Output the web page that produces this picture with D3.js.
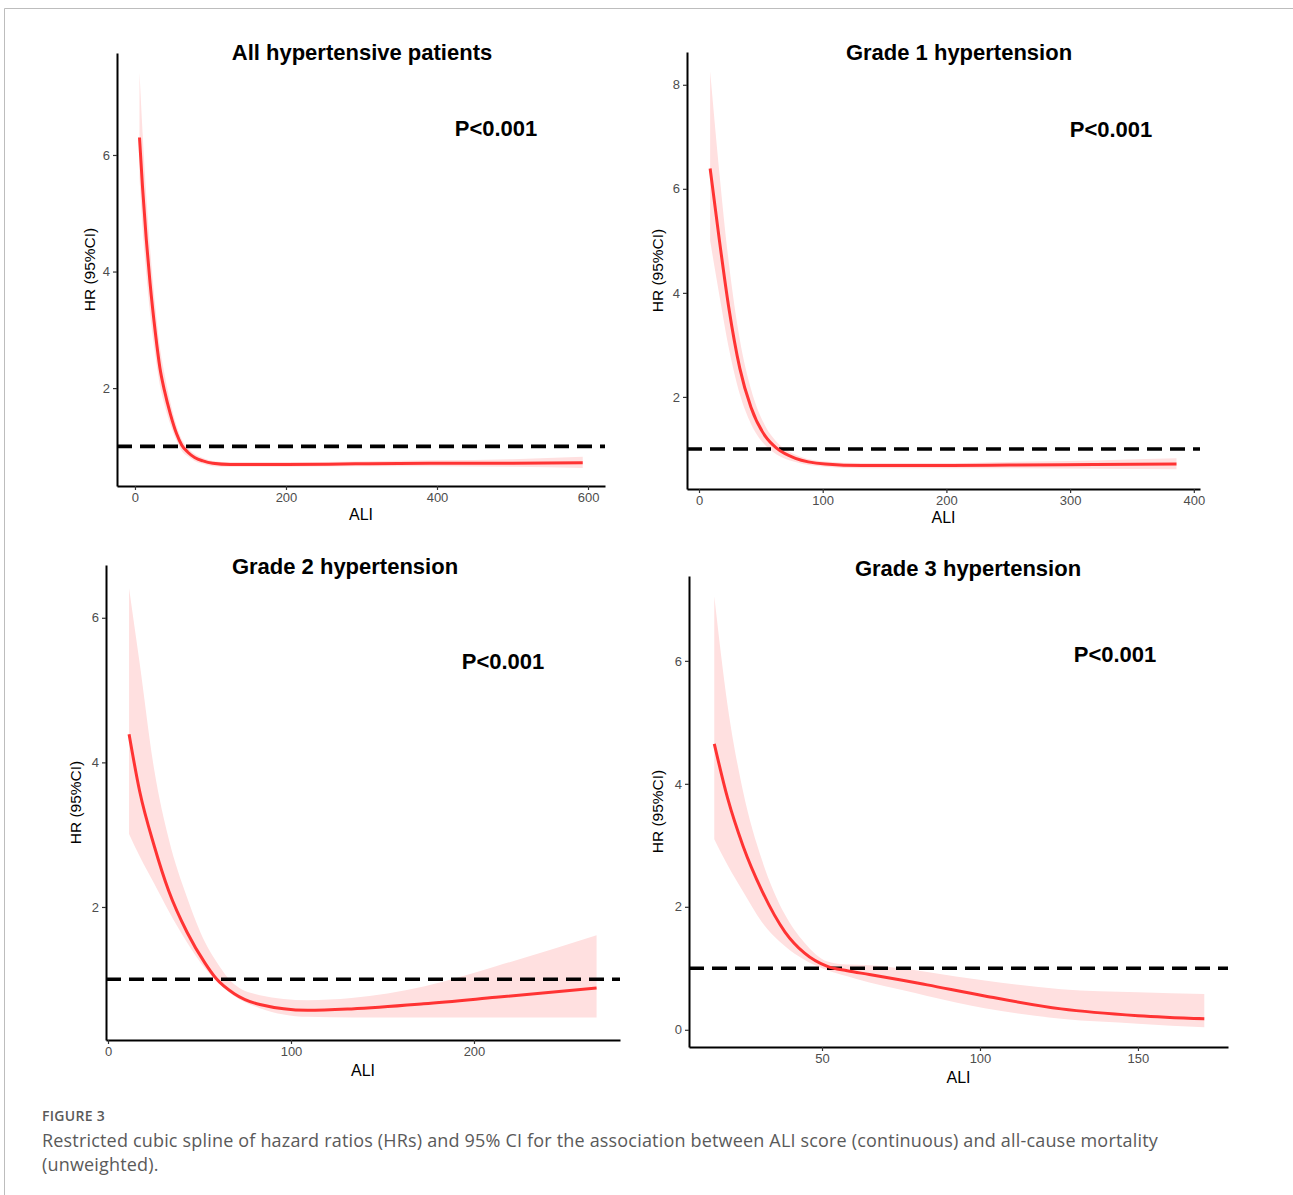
<!DOCTYPE html>
<html>
<head>
<meta charset="utf-8">
<script src="https://cdn.jsdelivr.net/npm/d3@7"></script>
<style>
  body { margin: 0; background: #fff; }
  svg { display: block; }
</style>
</head>
<body>
<svg id="fig" width="1293" height="1195"></svg>
<script>
// ---- data ----
const titles = ["All hypertensive patients", "Grade 1 hypertension", "Grade 2 hypertension", "Grade 3 hypertension"];
const pLabel = "P<0.001";

// All hypertensive patients
const allX     = [6, 10, 15, 20, 27, 33, 39, 47, 55, 62, 70, 79, 90, 103, 126, 200, 292, 400, 500, 593];
const allHR    = [6.30, 5.45, 4.55, 3.80, 2.95, 2.35, 1.96, 1.55, 1.22, 1.02, 0.90, 0.81, 0.75, 0.71, 0.69, 0.69, 0.70, 0.71, 0.71, 0.72];
const allUpper = [7.42, 6.40, 5.30, 4.40, 3.40, 2.70, 2.25, 1.75, 1.36, 1.12, 0.97, 0.87, 0.80, 0.75, 0.73, 0.73, 0.74, 0.76, 0.78, 0.82];
const allLower = [5.60, 4.75, 3.95, 3.28, 2.55, 2.05, 1.72, 1.37, 1.10, 0.92, 0.83, 0.75, 0.70, 0.66, 0.65, 0.65, 0.66, 0.66, 0.65, 0.63];

// Grade 1
const g1X     = [9, 16.5, 24, 33, 42, 54, 63, 78, 102, 132, 200, 251, 320, 386];
const g1HR    = [6.39, 5.01, 3.73, 2.55, 1.80, 1.23, 1.01, 0.82, 0.71, 0.68, 0.68, 0.69, 0.70, 0.71];
const g1Upper = [8.26, 6.30, 4.60, 3.10, 2.15, 1.42, 1.13, 0.89, 0.76, 0.73, 0.73, 0.75, 0.78, 0.82];
const g1Lower = [5.00, 3.95, 2.95, 2.05, 1.48, 1.06, 0.89, 0.75, 0.66, 0.63, 0.63, 0.63, 0.62, 0.61];

// Grade 2
const g2X     = [11.5, 17.3, 25.3, 33.2, 43.2, 53.1, 59.1, 69, 83, 109, 133, 172.5, 212, 267];
const g2HR    = [4.39, 3.60, 2.84, 2.22, 1.65, 1.22, 1.01, 0.80, 0.65, 0.57, 0.59, 0.66, 0.75, 0.88];
const g2Upper = [6.41, 5.37, 3.89, 2.94, 2.13, 1.51, 1.25, 0.93, 0.78, 0.71, 0.74, 0.90, 1.18, 1.61];
const g2Lower = [3.01, 2.70, 2.32, 1.94, 1.51, 1.15, 0.98, 0.77, 0.60, 0.48, 0.47, 0.47, 0.47, 0.47];

// Grade 3
const g3X     = [15.9, 20.1, 25, 31, 38.3, 44.4, 51.7, 58, 65, 75, 83.3, 101.5, 125.7, 150, 171];
const g3HR    = [4.65, 3.77, 2.99, 2.26, 1.59, 1.25, 1.03, 0.96, 0.90, 0.81, 0.73, 0.55, 0.34, 0.23, 0.18];
const g3Upper = [7.05, 5.28, 3.88, 2.76, 1.87, 1.42, 1.11, 1.06, 1.05, 1.00, 0.94, 0.80, 0.66, 0.61, 0.58];
const g3Lower = [3.10, 2.68, 2.25, 1.75, 1.36, 1.14, 0.97, 0.87, 0.77, 0.65, 0.55, 0.35, 0.18, 0.10, 0.04];

// axis limits and ticks
const xDomains = [[-23.8, 622.5], [-9.7, 405], [-1.1, 279.8], [7.9, 178.5]];
const yDomains = [[0.32, 7.75], [0.23, 8.63], [0.16, 6.73], [-0.28, 7.38]];
const xTicks = [[0, 200, 400, 600], [0, 100, 200, 300, 400], [0, 100, 200], [50, 100, 150]];
const yTicks = [[2, 4, 6], [2, 4, 6, 8], [2, 4, 6], [0, 2, 4, 6]];
const refHR = 1;

const series = [
  [allX, allHR, allLower, allUpper],
  [g1X, g1HR, g1Lower, g1Upper],
  [g2X, g2HR, g2Lower, g2Upper],
  [g3X, g3HR, g3Lower, g3Upper]
];

// ---- layout (pixel boxes of each panel's axes) ----
const boxes = [
  {l: 117, r: 605, t: 53, b: 486, titleX: 362, titleY: 60, pX: 496, pY: 136, ylabX: 90, xlabY: 520},
  {l: 687, r: 1200, t: 52, b: 489, titleX: 959, titleY: 60, pX: 1111, pY: 137, ylabX: 658, xlabY: 523},
  {l: 106, r: 620, t: 565, b: 1040, titleX: 345, titleY: 574, pX: 503, pY: 669, ylabX: 76, xlabY: 1076},
  {l: 689, r: 1228, t: 576, b: 1047, titleX: 968, titleY: 576, pX: 1115, pY: 662, ylabX: 658, xlabY: 1083}
];

const font = "'Liberation Sans', Arial, sans-serif";
const svg = d3.select("#fig");
svg.append("rect").attr("width", 1293).attr("height", 1195).attr("fill", "#fff");

// page frame
svg.append("path")
  .attr("d", "M4.5,1195 V8.5 H1293")
  .attr("fill", "none")
  .attr("stroke", "#bdbdbd")
  .attr("stroke-width", 1);

boxes.forEach((bx, i) => {
  const x = d3.scaleLinear().domain(xDomains[i]).range([bx.l, bx.r]);
  const y = d3.scaleLinear().domain(yDomains[i]).range([bx.b, bx.t]);
  const [xs, hr, lo, hi] = series[i];
  const pts = xs.map((v, k) => ({x: v, hr: hr[k], lo: lo[k], hi: hi[k]}));
  const g = svg.append("g");

  // confidence band
  g.append("path")
    .datum(pts)
    .attr("fill", "#ffe0e0")
    .attr("d", d3.area().curve(d3.curveMonotoneX)
      .x(d => x(d.x)).y0(d => y(d.lo)).y1(d => y(d.hi)));

  // reference line HR = 1
  g.append("line")
    .attr("x1", bx.l).attr("x2", bx.r)
    .attr("y1", y(refHR)).attr("y2", y(refHR))
    .attr("stroke", "#000")
    .attr("stroke-width", 3.6)
    .attr("stroke-dasharray", "15,8");

  // spline
  g.append("path")
    .datum(pts)
    .attr("fill", "none")
    .attr("stroke", "#ff3333")
    .attr("stroke-width", 3)
    .attr("d", d3.line().curve(d3.curveMonotoneX).x(d => x(d.x)).y(d => y(d.hr)));

  // axes
  const xa = g.append("g")
    .attr("transform", `translate(0,${bx.b})`)
    .call(d3.axisBottom(x).tickValues(xTicks[i]).tickFormat(d3.format("d"))
      .tickSize(4).tickSizeOuter(0).tickPadding(3));
  const ya = g.append("g")
    .attr("transform", `translate(${bx.l},0)`)
    .call(d3.axisLeft(y).tickValues(yTicks[i]).tickFormat(d3.format("d"))
      .tickSize(4).tickSizeOuter(0).tickPadding(3));
  [xa, ya].forEach(a => {
    a.attr("font-family", font).attr("font-size", 13);
    a.select(".domain").attr("stroke", "#000").attr("stroke-width", 2);
    a.selectAll(".tick line").attr("stroke", "#333").attr("stroke-width", 1.2);
    a.selectAll(".tick text").attr("fill", "#4d4d4d");
  });

  // titles and labels
  g.append("text")
    .attr("x", bx.titleX).attr("y", bx.titleY)
    .attr("text-anchor", "middle")
    .style("font-family", font)
    .style("font-weight", "bold").style("font-size", "22px")
    .text(titles[i]);

  g.append("text")
    .attr("x", bx.pX).attr("y", bx.pY)
    .attr("text-anchor", "middle")
    .style("font-family", font)
    .style("font-weight", "bold").style("font-size", "22px")
    .text(pLabel);

  g.append("text")
    .attr("transform", `translate(${bx.ylabX},${(bx.t + bx.b) / 2}) rotate(-90)`)
    .attr("text-anchor", "middle")
    .attr("dy", "0.35em")
    .style("font-family", font)
    .style("font-size", "15.5px")
    .text("HR (95%CI)");

  g.append("text")
    .attr("x", (bx.l + bx.r) / 2).attr("y", bx.xlabY)
    .attr("text-anchor", "middle")
    .style("font-family", font)
    .style("font-size", "16px")
    .text("ALI");
});

// caption
svg.append("text")
  .attr("x", 42).attr("y", 1121)
  .attr("fill", "#5a5a5a")
  .style("font-family", "'Open Sans', sans-serif")
  .style("font-weight", "600").style("font-size", "14px")
  .style("letter-spacing", "0.3px")
  .text("FIGURE 3");

const capLines = [
  "Restricted cubic spline of hazard ratios (HRs) and 95% CI for the association between ALI score (continuous) and all-cause mortality",
  "(unweighted)."
];
svg.append("text")
  .attr("x", 42).attr("y", 1147)
  .attr("fill", "#5a5a5a")
  .style("font-family", "'Open Sans', sans-serif")
  .style("font-size", "18px")
  .style("letter-spacing", "0.18px")
  .selectAll("tspan")
  .data(capLines)
  .join("tspan")
  .attr("x", 42)
  .attr("dy", (d, k) => k === 0 ? 0 : 24)
  .text(d => d);
</script>
</body>
</html>
